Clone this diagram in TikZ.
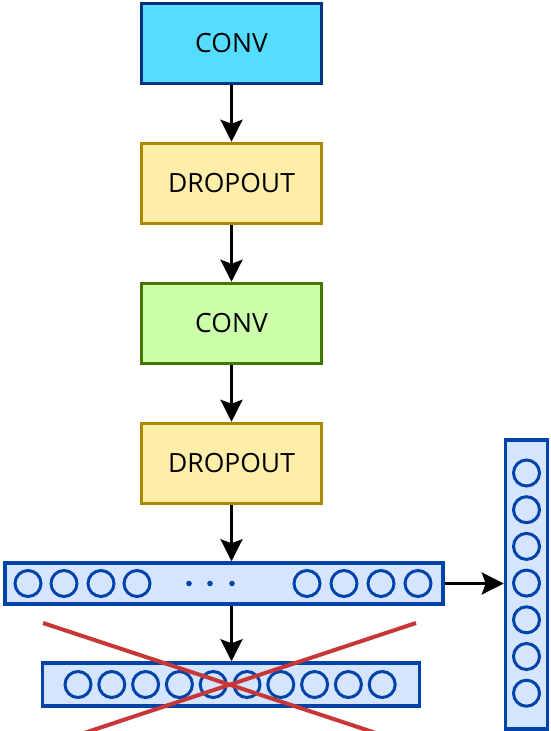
\documentclass[tikz,border=0pt]{standalone}
\usepackage{fontspec}
\setmainfont{Open Sans}
\usetikzlibrary{arrows.meta}

\definecolor{convblue}{HTML}{55DDFF}
\definecolor{convblueline}{HTML}{003380}
\definecolor{dropfill}{HTML}{FFEEAA}
\definecolor{dropline}{HTML}{AA8800}
\definecolor{convgreen}{HTML}{CCFFAA}
\definecolor{convgreenline}{HTML}{447700}
\definecolor{rowfill}{HTML}{D5E5FF}
\definecolor{rowline}{HTML}{0044AA}
\definecolor{crossred}{HTML}{C83737}

\tikzset{
	layer/.style={draw, line width=3.5pt, minimum width=180pt, minimum height=80pt, inner sep=0pt, font=\fontsize{26.5}{30}\selectfont},
	row/.style={draw=rowline, fill=rowfill, line width=3.5pt, inner sep=0pt},
	unit/.style={circle, draw=rowline, line width=3pt, minimum size=26pt, inner sep=0pt},
	flow/.style={line width=3pt, -{Stealth[length=22pt, width=22pt, inset=4pt]}}
}

\begin{document}
\begin{tikzpicture}[x=1pt, y=-1pt]
	\useasboundingbox (0,0) rectangle (551,731);

	\node[layer, fill=convblue, draw=convblueline] (conv1) at (231.5,43.5) {CONV};
	\node[layer, fill=dropfill, draw=dropline] (drop1) at (231.5,183.5) {DROPOUT};
	\node[layer, fill=convgreen, draw=convgreenline] (conv2) at (231.5,323.5) {CONV};
	\node[layer, fill=dropfill, draw=dropline] (drop2) at (231.5,463.5) {DROPOUT};

	\node[row, minimum width=438pt, minimum height=41pt] (flat) at (224,583.5) {};
	\node[row, minimum width=377pt, minimum height=43pt] (dense) at (231,684.5) {};
	\node[row, minimum width=42pt, minimum height=289pt] (out) at (526.5,584.5) {};

	\foreach \x [count=\i] in {28, 64, 101, 137, 307, 344, 381, 418}
		\node[unit] (f\i) at (\x,583.5) {};
	\foreach \x [count=\i] in {189, 210, 232}
		\fill[rowline] (\x,583.5) circle[radius=2.8pt];

	\foreach \i in {0,...,9}
		\node[unit] (d\i) at ({78+33.8*\i},684.5) {};

	\foreach \i in {0,...,6}
		\node[unit] (o\i) at (526.5,{473+36.7*\i}) {};

	\draw[flow] (conv1) -- (drop1);
	\draw[flow] (drop1) -- (conv2);
	\draw[flow] (conv2) -- (drop2);
	\draw[flow] (drop2) -- (drop2.south |- flat.north);
	\draw[flow] (drop2.south |- flat.south) -- (drop2.south |- dense.north);
	\draw[flow] (flat) -- (flat.east -| out.west);

	% dropped layer
	\coordinate (xa) at (43,623);
	\coordinate (xb) at (382,735);
	\coordinate (xc) at (416,623);
	\coordinate (xd) at (78,735);
	\draw[crossred, line width=4pt] (xa) -- (xb);
	\draw[crossred, line width=4pt] (xc) -- (xd);
\end{tikzpicture}
\end{document}
